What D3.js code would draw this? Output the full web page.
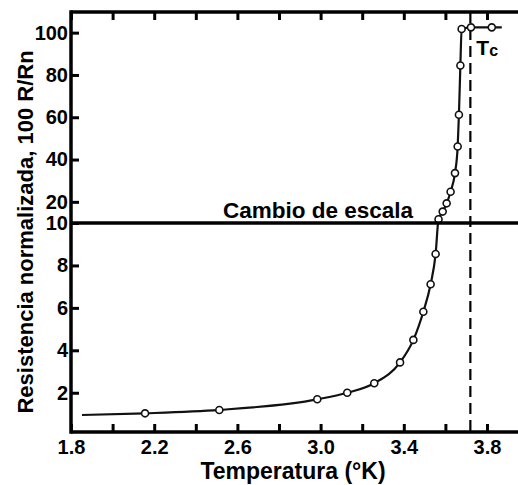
<!DOCTYPE html>
<html>
<head>
<meta charset="utf-8">
<script src="https://cdn.jsdelivr.net/npm/d3@7"></script>
<style>
  body { margin: 0; background: #fff; }
  svg { display: block; font-family: "Liberation Sans", Arial, sans-serif; font-weight: bold; }
</style>
</head>
<body>
<svg width="518" height="485"></svg>
<script>
// temperature (K) and normalized resistance 100 R/Rn
var tempK = [1.853, 2.156, 2.513, 2.984, 3.128, 3.258, 3.382, 3.446, 3.494, 3.529, 3.553,
  3.567, 3.587, 3.606, 3.625, 3.646, 3.659, 3.665, 3.672, 3.678, 3.723, 3.823, 3.871];
var resist = [0.95, 1.03, 1.19, 1.69, 2.0, 2.45, 3.43, 4.49, 5.82, 7.11, 8.54,
  11.75, 15.4, 19.3, 24.8, 33.6, 46.2, 61.2, 84.5, 101.7, 102.5, 102.5, 102.5];
// first and last entries are only line ends (no circle)
var xTicks = [1.8, 2.0, 2.2, 2.4, 2.6, 2.8, 3.0, 3.2, 3.4, 3.6, 3.8];
var xLabels = [1.8, 2.2, 2.6, 3.0, 3.4, 3.8];
var yTicks = [2, 4, 6, 8, 10, 20, 40, 60, 80, 100];
var scaleBreak = 10;
var tc = 3.72;

var svg = d3.select("svg");
var padding = { left: 71, top: 12, bottom: 432, right: 530 };

var data = tempK.map(function (t, i) { return { t: t, r: resist[i] }; });

var x = d3.scaleLinear().domain([1.8, 4.0]).range([padding.left, padding.left + 2.2 * 208]);
// two linear pieces: 0-10 stretched, 10-110 compressed
var y = d3.scaleLinear().domain([0.15, scaleBreak, 110]).range([padding.bottom, 223, 11.5]);

// curve + markers first, frame on top
var line = d3.line()
  .x(function (d) { return x(d.t); })
  .y(function (d) { return y(d.r); })
  .curve(d3.curveMonotoneX);

// Tc dashed line
svg.append("line")
  .attr("x1", x(tc)).attr("x2", x(tc))
  .attr("y1", padding.top).attr("y2", padding.bottom)
  .style("stroke", "#000").style("stroke-width", 2.2)
  .style("stroke-dasharray", "11,6");

svg.append("path")
  .datum(data)
  .attr("d", line)
  .style("fill", "none")
  .style("stroke", "#111")
  .style("stroke-width", 2.2);

svg.selectAll("circle.pt")
  .data(data.slice(1, data.length - 1))
  .enter()
  .append("circle")
  .attr("class", "pt")
  .attr("cx", function (d) { return x(d.t); })
  .attr("cy", function (d) { return y(d.r); })
  .attr("r", 3.5)
  .style("fill", "#fff")
  .style("stroke", "#111")
  .style("stroke-width", 1.6);

var xAxis = d3.axisBottom(x).tickValues(xTicks).tickSize(-8).tickPadding(8)
  .tickFormat(function (d) {
    return xLabels.some(function (v) { return Math.abs(v - d) < 1e-6; }) ? d3.format(".1f")(d) : "";
  });
var gX = svg.append("g")
  .attr("transform", "translate(0," + padding.bottom + ")")
  .call(xAxis);

var gXTop = svg.append("g")
  .attr("transform", "translate(0," + padding.top + ")")
  .call(d3.axisTop(x).tickValues(xTicks).tickSize(-8).tickFormat(""));

var yAxis = d3.axisLeft(y).tickValues(yTicks).tickSize(-8).tickPadding(3);
var gY = svg.append("g")
  .attr("transform", "translate(" + padding.left + ",0)")
  .call(yAxis);

svg.selectAll(".domain").attr("stroke", "#000").attr("stroke-width", 3.5);
gX.select(".domain").attr("d", "M" + padding.left + ",0H" + padding.right);
gXTop.select(".domain").attr("d", "M" + padding.left + ",0H" + padding.right);
gY.select(".domain").attr("d", "M0," + (padding.top - 1.75) + "V" + (padding.bottom + 1.75));
svg.selectAll(".tick line").attr("stroke", "#000").attr("stroke-width", 3);
svg.selectAll(".tick text")
  .attr("font-family", '"Liberation Sans", Arial, sans-serif')
  .attr("font-weight", "bold")
  .attr("font-size", 20)
  .attr("fill", "#000");

// scale change line
svg.append("line")
  .attr("x1", padding.left).attr("x2", padding.right)
  .attr("y1", y(scaleBreak)).attr("y2", y(scaleBreak))
  .style("stroke", "#000").style("stroke-width", 3.5);
svg.append("text")
  .attr("x", 223).attr("y", y(scaleBreak) - 5)
  .style("font-size", "22.5px")
  .text("Cambio de escala");

var tcText = svg.append("text")
  .attr("x", x(tc) + 6).attr("y", 55)
  .style("font-size", "21px");
tcText.append("tspan").text("T");
tcText.append("tspan").attr("dy", 1).style("font-size", "16px").text("c");

// axis titles
svg.append("text")
  .attr("x", 293).attr("y", 479)
  .attr("text-anchor", "middle")
  .style("font-size", "23px")
  .text("Temperatura (°K)");

svg.append("text")
  .attr("transform", "translate(33,232) rotate(-90)")
  .attr("text-anchor", "middle")
  .style("font-size", "22px")
  .text("Resistencia normalizada, 100 R/Rn");
</script>
</body>
</html>
